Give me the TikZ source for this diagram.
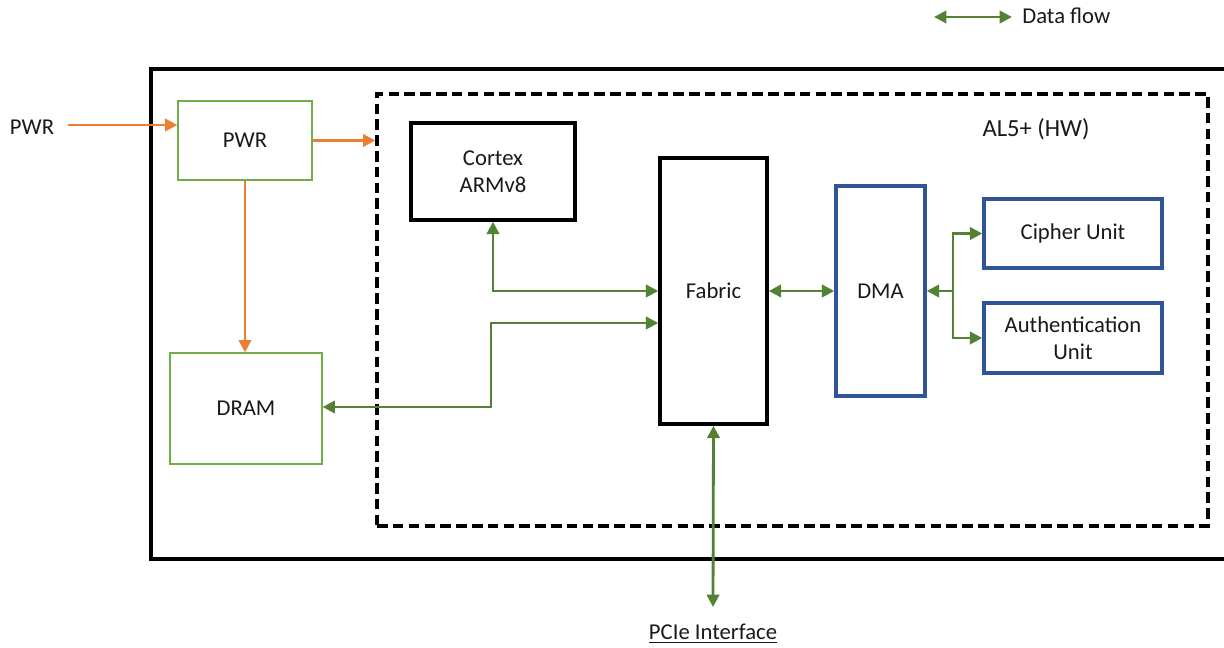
\documentclass[tikz,border=0pt]{standalone}
\usepackage{fontspec}
\setmainfont{Carlito}
\usetikzlibrary{arrows.meta,calc}
\definecolor{pwrorange}{HTML}{ED7D31}
\definecolor{flowgreen}{HTML}{548235}
\definecolor{boxgreen}{HTML}{70AD47}
\definecolor{boxblue}{HTML}{2F5597}
\begin{document}
\begin{tikzpicture}[x=0.02cm,y=-0.02cm,
  font=\fontsize{12.9}{15.5}\selectfont,
  every node/.style={align=center,text=black!90},
  greenbox/.style={draw=boxgreen,line width=0.7pt,inner sep=0pt},
  blackbox/.style={draw=black,line width=2pt,inner sep=0pt},
  bluebox/.style={draw=boxblue,line width=2pt,inner sep=0pt},
  flow/.style={draw=flowgreen,line width=1.6pt,{Triangle[length=7pt,width=7pt]}-{Triangle[length=7pt,width=7pt]}},
  flowone/.style={draw=flowgreen,line width=1.6pt,-{Triangle[length=7pt,width=7pt]}},
  power/.style={draw=pwrorange,line width=1.6pt,-{Triangle[length=7pt,width=7pt]}}]
\useasboundingbox (0,0) rectangle (1224,648);
\begin{scope}
\clip (0,0) rectangle (1224,648);
\draw[line width=2.3pt] (1240,69) -- (151,69) -- (151,559) -- (1240,559);
\end{scope}
% dashed AL5 box
\node[draw=black,line width=2pt,dash pattern=on 6pt off 3pt,minimum width=16.62cm,minimum height=8.64cm,inner sep=0pt] (al5) at (792.5,310) {};
\node[font=\fontsize{14}{17}\selectfont] (al5lbl) at (1036,129) {AL5+ (HW)};
% boxes
\node[greenbox,minimum width=2.68cm,minimum height=1.58cm] (pwr) at (245,140.5) {PWR};
\node[greenbox,minimum width=3.04cm,minimum height=2.22cm] (dram) at (246,408.5) {DRAM};
\node[blackbox,minimum width=3.28cm,minimum height=1.94cm] (cortex) at (493,171.5) {Cortex\\ARMv8};
\node[blackbox,minimum width=2.14cm,minimum height=5.32cm] (fabric) at (713.5,291) {Fabric};
\node[bluebox,minimum width=1.78cm,minimum height=4.2cm] (dma) at (880.5,291) {DMA};
\node[bluebox,minimum width=3.56cm,minimum height=1.38cm] (cipher) at (1073,233.5) {Cipher Unit};
\node[bluebox,minimum width=3.56cm,minimum height=1.40cm] (auth) at (1073,338) {Authentication\\Unit};
% external labels
\node (pwrin) at (32,127) {PWR};
\node (pcie) at (713,634) {\underline{PCIe Interface}};
\coordinate (pcieend) at (713,607);
% legend
\coordinate (lg1) at (934,17);
\coordinate (lg2) at (1012,17);
\node[anchor=west,inner sep=0pt] (legend) at (1022,16) {Data flow};
\draw[flow] (lg1) -- (lg2);
% power arrows
\draw[power] ([xshift=0.15cm]pwrin.east |- 0,125) -- (pwr.west |- 0,125);
\draw[power] (pwr.east) -- (pwr.east -| al5.west);
\draw[power] (pwr.south) -- (pwr.south |- dram.north);
% data flow
\draw[flow] (cortex.south) |- (fabric.west);
\draw[flow] (dram.east |- 0,407) -- (491,407) |- (fabric.west |- 0,323);
\draw[flow] (fabric.east) -- (dma.west);
\coordinate (br) at (953,291);
\draw[flowone] (br) -- (dma.east);
\draw[flowone] (br) |- (cipher.west);
\draw[flowone] (br) |- (auth.west);
\draw[flow] (fabric.south) -- (pcieend);
\end{tikzpicture}
\end{document}
